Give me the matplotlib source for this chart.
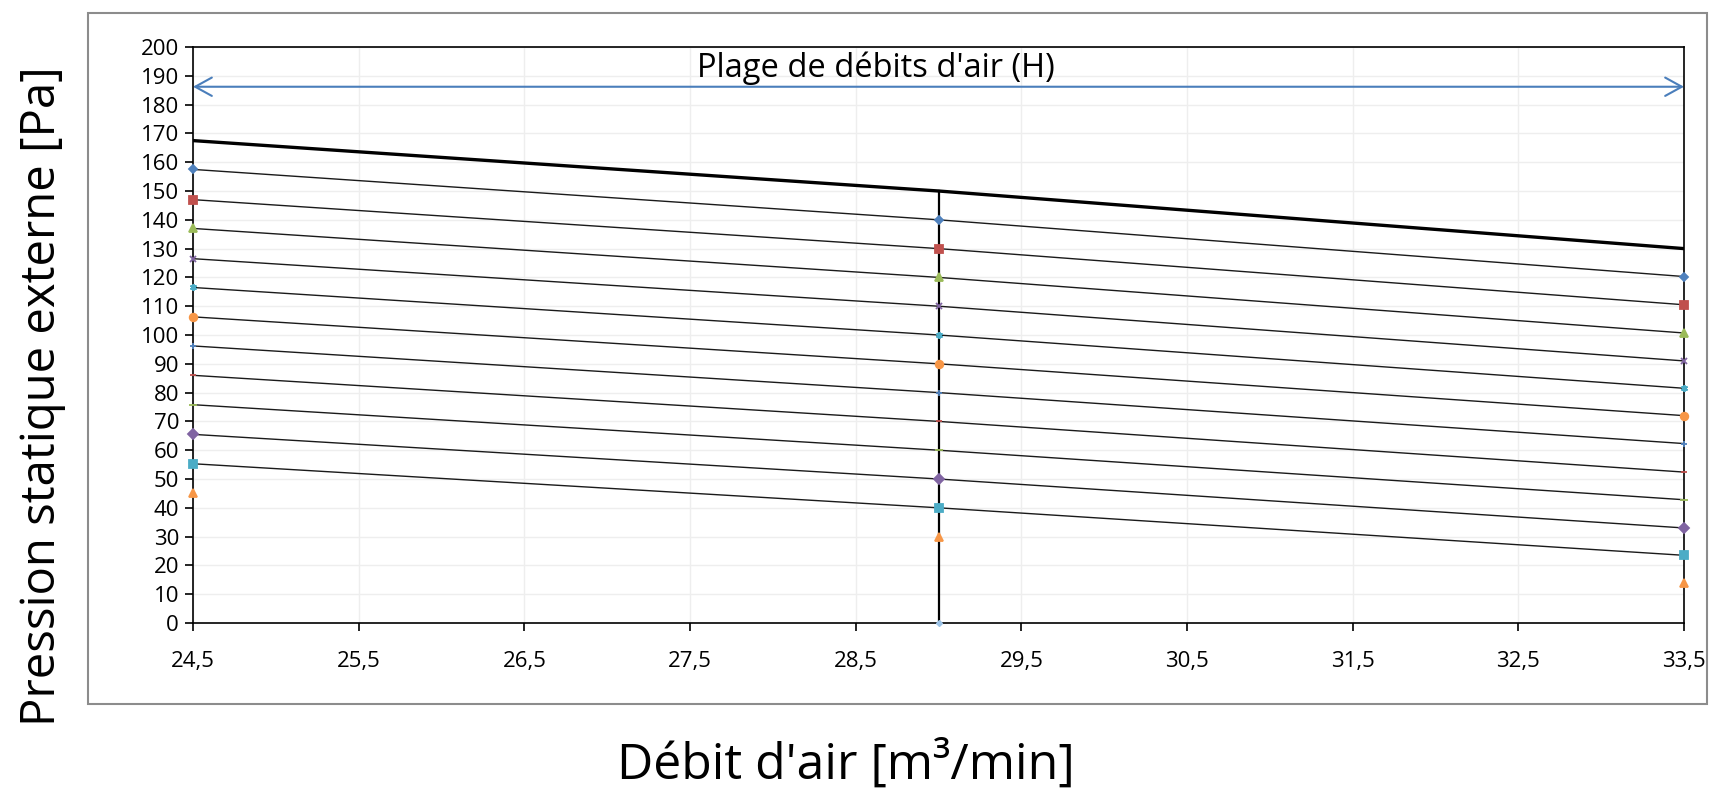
import matplotlib
matplotlib.use("Agg")
import matplotlib.pyplot as plt
from matplotlib.patches import Rectangle
from matplotlib.ticker import MultipleLocator, FuncFormatter

plt.rcParams['font.family'] = ['Open Sans', 'DejaVu Sans']

# ---- data ----
x_points = [24.5, 29.0, 33.5]
upper_limit = [167.5, 150.0, 130.0]
series_values = [
    [157.5, 140.0, 120.3],
    [147.0, 130.0, 110.5],
    [137.0, 120.0, 100.7],
    [126.5, 110.0, 91.0],
    [116.5, 100.0, 81.5],
    [106.3, 90.0, 72.0],
    [96.2, 80.0, 62.3],
    [86.0, 70.0, 52.4],
    [75.8, 60.0, 42.8],
    [65.5, 50.0, 33.0],
    [55.3, 40.0, 23.5],
]
extra_points = [45.0, 30.0, 13.8]
zero_point_x = [29.0]
zero_point_y = [0.0]
vline_x = 29.0
vline_range = [0.0, 150.0]
arrow_y = 186.2
arrow_label = "Plage de débits d'air (H)"
xlabel = "Débit d'air [m³/min]"
ylabel = "Pression statique externe [Pa]"

colors = ['#4F81BD', '#C0504D', '#9BBB59', '#8064A2', '#4BACC6', '#F79646']
markers = ['D', 's', '^', 'x', (6, 2, 0), 'o', '+', '_', '_', 'D', 's', '^']
msizes = [4.5, 5.5, 5.5, 5, 5, 5.5, 5, 5, 6, 5, 6, 6]

fig = plt.figure(figsize=(17.09, 7.93), dpi=100)
ax = fig.add_axes([193/1709, 1-623/793, (1684-193)/1709, (623-47)/793])

# outer chart frame
fig.patches.append(Rectangle((88/1709, 1-704/793), (1707-88)/1709, (704-13)/793,
                             transform=fig.transFigure, fill=False,
                             edgecolor='#8c8c8c', linewidth=1.5, zorder=0))

ax.set_xlim(24.5, 33.5)
ax.set_ylim(0, 200)
ax.yaxis.set_major_locator(MultipleLocator(10))
ax.set_xticks([24.5 + i for i in range(10)])
ax.xaxis.set_major_formatter(FuncFormatter(lambda v, p: f"{v:.1f}".replace('.', ',')))
ax.yaxis.set_major_formatter(FuncFormatter(lambda v, p: f"{int(round(v))}"))
ax.grid(True, color='#eeeeee', linewidth=1.0, zorder=0)
ax.set_axisbelow(True)
for s in ax.spines.values():
    s.set_color('black')
    s.set_linewidth(1.2)
ax.tick_params(axis='both', direction='out', length=6, width=1.2, labelsize=16,
               color='black', pad=4)
ax.tick_params(axis='x', pad=14)

# thin lines
for i, vals in enumerate(series_values):
    ax.plot(x_points, vals, color='#1a1a1a', linewidth=1.0, zorder=3)
# thick upper line
ax.plot(x_points, upper_limit, color='black', linewidth=2.4, zorder=4)
# vertical line
ax.plot([vline_x, vline_x], vline_range, color='black', linewidth=1.6, zorder=4)

# markers
all_marker_series = series_values + [extra_points]
for i, vals in enumerate(all_marker_series):
    c = colors[i % 6]
    ax.plot(x_points, vals, linestyle='none', marker=markers[i], markersize=msizes[i],
            color=c, markeredgecolor=c, markeredgewidth=1.3, zorder=5, clip_on=False)
ax.plot(zero_point_x, zero_point_y, linestyle='none', marker='D', markersize=3,
        color='#9dc3e6', zorder=5, clip_on=False)

# double arrow
ax.annotate('', xy=(33.5, arrow_y), xytext=(24.5, arrow_y),
            arrowprops=dict(arrowstyle='<->,head_length=1.0,head_width=0.55',
                            color='#4A7EBB', linewidth=1.5, mutation_scale=12,
                            shrinkA=0, shrinkB=0), zorder=6)
ax.text(28.62, 189.6, arrow_label, ha='center', va='baseline', fontsize=23.5, color='black')

fig.text(846/1709, 1-765/793, xlabel, ha='center', va='center', fontsize=36)
fig.text(42/1709, 0.5, ylabel, ha='center', va='center', rotation=90, fontsize=34)

fig.savefig('out.png', dpi=100)
